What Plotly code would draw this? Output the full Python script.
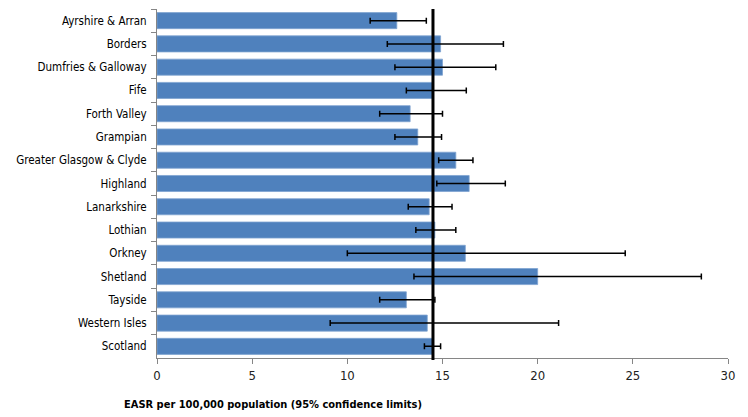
import plotly.graph_objects as go

regions = ["Ayrshire & Arran", "Borders", "Dumfries & Galloway", "Fife", "Forth Valley",
           "Grampian", "Greater Glasgow & Clyde", "Highland", "Lanarkshire", "Lothian",
           "Orkney", "Shetland", "Tayside", "Western Isles", "Scotland"]
easr = [12.6, 14.9, 15.0, 14.5, 13.3, 13.7, 15.7, 16.4, 14.3, 14.6, 16.2, 20.0, 13.1, 14.2, 14.5]
lower = [11.2, 12.1, 12.5, 13.1, 11.7, 12.5, 14.8, 14.7, 13.2, 13.6, 10.0, 13.5, 11.7, 9.1, 14.05]
upper = [14.15, 18.2, 17.8, 16.25, 15.0, 14.95, 16.6, 18.3, 15.5, 15.7, 24.6, 28.6, 14.6, 21.1, 14.9]
scotland_rate = 14.5
x_ticks = [0, 5, 10, 15, 20, 25, 30]

plus = [u - v for u, v in zip(upper, easr)]
minus = [v - l for l, v in zip(lower, easr)]

font_family = "DejaVu Sans Condensed, Lato, sans-serif"

fig = go.Figure()
fig.add_trace(go.Bar(
    y=regions, x=easr, orientation="h",
    marker=dict(color="#4F81BD", line=dict(color="#7FA3D1", width=0.8)),
    error_x=dict(type="data", symmetric=False, array=plus, arrayminus=minus,
                 color="black", thickness=1.5, width=3),
    showlegend=False,
))

fig.add_shape(type="line", x0=scotland_rate, x1=scotland_rate, y0=-0.006, y1=1.0,
              xref="x", yref="paper", line=dict(color="black", width=3))

fig.add_annotation(text="<b>EASR per 100,000 population (95% confidence limits)</b>",
                   xref="paper", yref="paper", x=0.204, y=-0.134,
                   xanchor="center", yanchor="middle", showarrow=False,
                   font=dict(size=11, family=font_family, color="black"))

fig.update_layout(
    width=740, height=409,
    margin=dict(l=149, r=20, t=1, b=59),
    plot_bgcolor="white", paper_bgcolor="white",
    bargap=0.31,
    font=dict(family=font_family, color="black", size=12),
    xaxis=dict(range=[0, 30], tickvals=x_ticks, showgrid=False, zeroline=False,
               showline=True, linecolor="#868686", linewidth=1,
               ticks="outside", ticklen=5, tickcolor="#868686",
               tickfont=dict(size=13, family=font_family, color="#222")),
    yaxis=dict(autorange="reversed", showgrid=False, zeroline=False, automargin=False,
               showline=True, linecolor="#868686", linewidth=1,
               ticks="outside", ticklen=5, tickcolor="#868686", tickson="boundaries",
               ticklabelstandoff=7,
               tickfont=dict(size=11.5, family=font_family, color="black")),
)

fig.write_html("out.html")
